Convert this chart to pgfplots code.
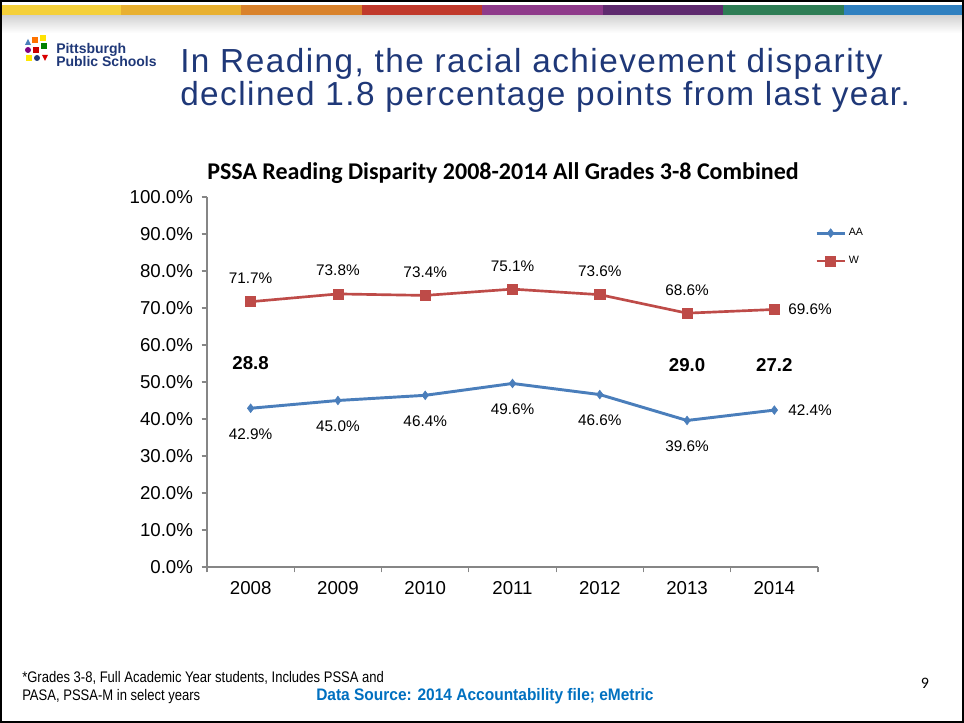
\documentclass[border=0pt]{standalone}
\usepackage{pgfplots}
\pgfplotsset{compat=1.18}
\usepackage{pgfplotstable}
\usepackage{fontspec}
\setmainfont{Liberation Sans}
\newfontfamily\calibri{Carlito}
\newfontfamily\titlefont[LetterSpace=4.4]{Liberation Sans}
\newfontfamily\narrowfont[FakeStretch=0.85]{Liberation Sans}
\newfontfamily\srcfont[FakeStretch=0.93]{Liberation Sans}

\definecolor{navy}{RGB}{31,56,120}
\definecolor{aablue}{RGB}{74,126,187}
\definecolor{wred}{RGB}{190,75,72}
\definecolor{axgray}{RGB}{134,134,134}
\definecolor{srcblue}{RGB}{0,112,192}

% year index, AA and W percent proficient
\pgfplotstableread{
x year aa w
0 2008 42.9 71.7
1 2009 45.0 73.8
2 2010 46.4 73.4
3 2011 49.6 75.1
4 2012 46.6 73.6
5 2013 39.6 68.6
6 2014 42.4 69.6
}\reading

\begin{document}
\begin{tikzpicture}[x=0.75pt,y=0.75pt]
% slide background and frame
\fill[white] (0,0) rectangle (964,723);
\shade[top color=black!18, bottom color=white] (0,690) rectangle (964,708);
\foreach \c [count=\i from 0] in {{245,208,58},{232,176,48},{217,130,43},{192,57,43},{142,58,138},{94,42,110},{46,125,85},{47,128,192}}{
  \definecolor{seg}{RGB}{\c}
  \fill[seg] ({\i*120.5},708) rectangle ({(\i+1)*120.5},718);
}
\draw[black,line width=1.5pt] (1,1) rectangle (963,722);

% logo
\fill[aablue] (25,678) -- (31,678) -- (28,684) -- cycle;
\fill[orange!90!red] (32,680) rectangle (38,686);
\fill[yellow!85!orange] (40,682) rectangle (46,688);
\fill[green!50!black] (41,674) rectangle (47,680);
\fill[violet] (28,673) circle (3);
\fill[red!80!black] (33,670) rectangle (39,676);
\fill[yellow!90!orange] (26,662) rectangle (32,668);
\fill[navy] (37,665) circle (3);
\fill[red!85!black] (42,668) -- (48,668) -- (45,662) -- cycle;
\node[anchor=base west, font=\bfseries\fontsize{10.5}{11}\selectfont, text=navy, inner sep=0] at (56,669) {Pittsburgh};
\node[anchor=base west, font=\bfseries\fontsize{10.5}{11}\selectfont, text=navy, inner sep=0] at (56,656) {Public Schools};

% slide title
\node[anchor=base west, font=\titlefont\fontsize{25}{25}\selectfont, text=navy, inner sep=0] at (180,650) {In Reading, the racial achievement disparity};
\node[anchor=base west, font=\titlefont\fontsize{25}{25}\selectfont, text=navy, inner sep=0] at (180,617) {declined 1.8 percentage points from last year.};

% chart title
\node[font=\calibri\bfseries\fontsize{18}{18}\selectfont] at (503,550) {PSSA Reading Disparity 2008-2014 All Grades 3-8 Combined};

\coordinate (axorig) at (207,156);
\begin{axis}[
    at={(axorig)}, anchor=south west,
    scale only axis,
    width=458.25pt, height=277.5pt,
    xmin=-0.5, xmax=6.5,
    ymin=0, ymax=100,
    axis x line=bottom, axis y line=left,
    axis line style={-, axgray, line width=0.8pt},
    xtick={0,...,6},
    xticklabels={2008,2009,2010,2011,2012,2013,2014},
    minor xtick={-0.5,0.5,...,6.5},
    ytick={0,10,...,100},
    yticklabel={\pgfmathprintnumber[fixed,fixed zerofill,precision=1]{\tick}\%},
    /pgf/number format/assume math mode=true,
    ticklabel style={font=\fontsize{14}{14}\selectfont},
    x tick style={draw=none},
    minor x tick style={draw=axgray, line width=0.8pt},
    y tick style={draw=axgray, line width=0.8pt},
    tick align=outside,
    major tick length=4pt, minor tick length=4pt,
    xticklabel style={yshift=-3pt},
    yticklabel style={xshift=-3pt},
    clip=false,
    legend style={at={(rel axis cs:0.995,0.923)}, anchor=north west,
        draw=none, fill=none, font=\fontsize{8}{8}\selectfont,
        row sep=10pt, inner sep=0pt,
        /tikz/every even column/.append style={column sep=0pt}},
    legend cell align=left,
    legend image code/.code={
        \draw[mark repeat=2,mark phase=2,#1] plot coordinates {(0pt,0pt) (10.5pt,0pt) (21pt,0pt)};
    },
    every node near coord/.append style={font=\fontsize{11.5}{11.5}\selectfont, text=black},
]
\addplot[aablue, line width=2.2pt, mark=diamond*, mark size=3.2pt,
    mark options={solid, aablue, line width=0.5pt}] table[x=x,y=aa]{\reading};
\addlegendentry{AA}
\addplot[wred, line width=2pt, mark=square*, mark size=3.8pt,
    mark options={solid, wred, line width=0.5pt}] table[x=x,y=w]{\reading};
\addlegendentry{W}

% data labels
\addplot[forget plot, draw=none, mark=none, restrict x to domain=0:5,
    nodes near coords={\pgfmathprintnumber[fixed,fixed zerofill,precision=1]{\pgfplotspointmeta}\%},
    point meta=y,
    every node near coord/.append style={anchor=center, yshift=-19.5pt}] table[x=x,y=aa]{\reading};
\addplot[forget plot, draw=none, mark=none, restrict x to domain=6:6,
    nodes near coords={\pgfmathprintnumber[fixed,fixed zerofill,precision=1]{\pgfplotspointmeta}\%},
    point meta=y,
    every node near coord/.append style={anchor=west, xshift=7pt, yshift=0pt}] table[x=x,y=aa]{\reading};
\addplot[forget plot, draw=none, mark=none, restrict x to domain=0:5,
    nodes near coords={\pgfmathprintnumber[fixed,fixed zerofill,precision=1]{\pgfplotspointmeta}\%},
    point meta=y,
    every node near coord/.append style={anchor=center, yshift=17.5pt}] table[x=x,y=w]{\reading};
\addplot[forget plot, draw=none, mark=none, restrict x to domain=6:6,
    nodes near coords={\pgfmathprintnumber[fixed,fixed zerofill,precision=1]{\pgfplotspointmeta}\%},
    point meta=y,
    every node near coord/.append style={anchor=west, xshift=7pt, yshift=0pt}] table[x=x,y=w]{\reading};

% disparity (W minus AA) labels
\addplot[forget plot, draw=none, mark=none, point meta=explicit symbolic,
    nodes near coords,
    every node near coord/.append style={anchor=center, font=\bfseries\fontsize{14}{14}\selectfont}]
    coordinates {(0,55.1)[28.8] (5,54.6)[29.0] (6,54.6)[27.2]};
\end{axis}

% footnotes
\node[anchor=base west, font=\narrowfont\fontsize{11.5}{11.5}\selectfont, inner sep=0] at (22,40) {*Grades 3-8, Full Academic Year students, Includes PSSA and};
\node[anchor=base west, font=\narrowfont\fontsize{11.5}{11.5}\selectfont, inner sep=0] at (22,22) {PASA, PSSA-M in select years};
\node[anchor=base west, font=\srcfont\bfseries\fontsize{12.5}{12.5}\selectfont, text=srcblue, inner sep=0] at (316,22) {Data Source: 2014 Accountability file; eMetric};
\node[font=\calibri\fontsize{12}{12}\selectfont] at (925,40) {9};
\end{tikzpicture}
\end{document}
